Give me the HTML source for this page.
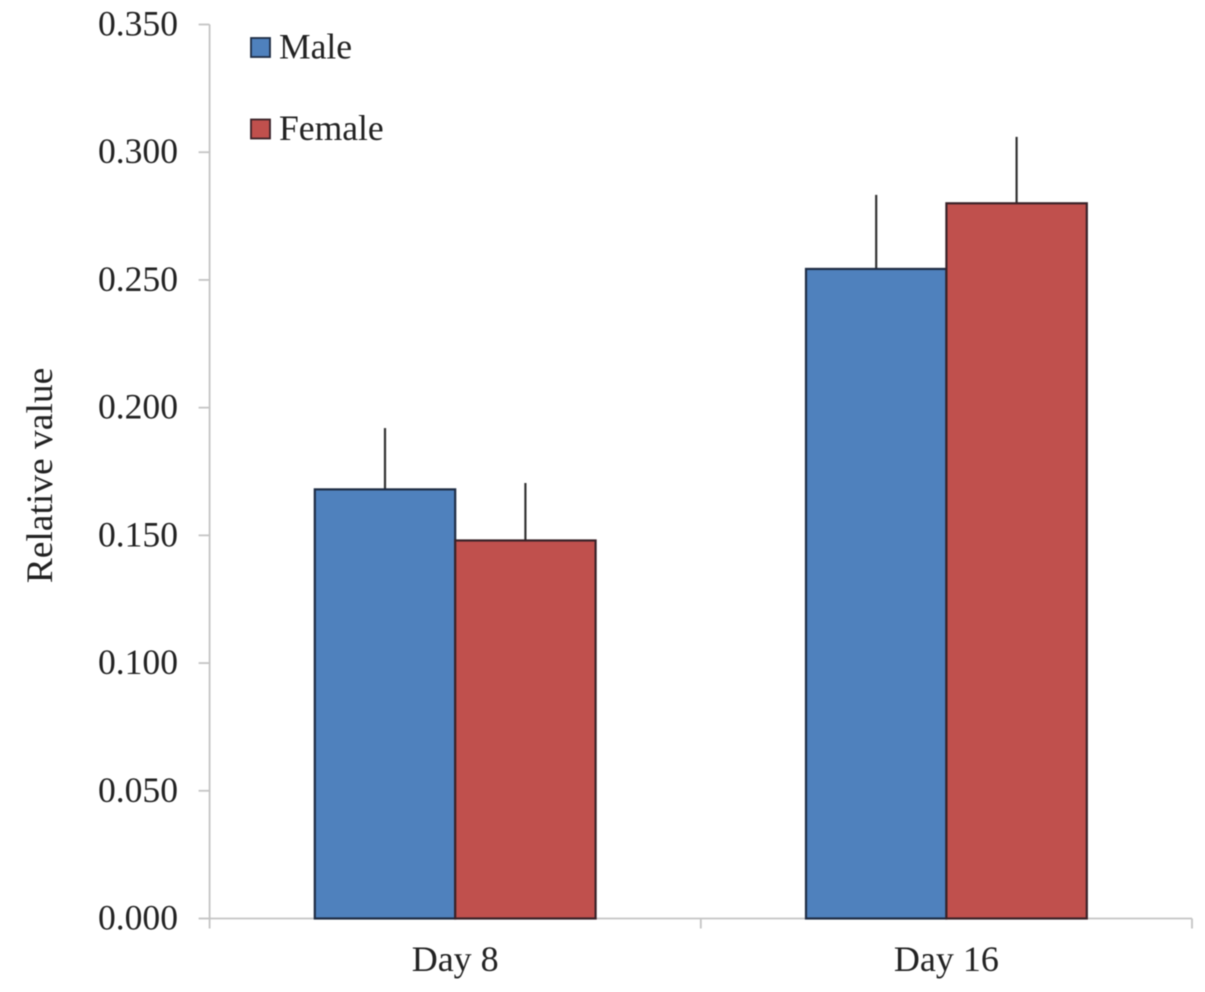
<!DOCTYPE html>
<html>
<head>
<meta charset="utf-8">
<style>
html,body{margin:0;padding:0;background:#fff;width:1205px;height:992px;overflow:hidden}
svg{display:block;font-family:"Liberation Serif",serif;fill:#222;filter:blur(0.6px)}
</style>
</head>
<body>
<svg id="chart" width="1205" height="992" viewBox="0 0 1205 992" xmlns="http://www.w3.org/2000/svg">
<g id="axes"></g>
<g id="bars"></g>
<g id="legend"></g>
<text transform="translate(52,475.5) rotate(-90)" text-anchor="middle" font-size="37.5">Relative value</text>
</svg>
<script>
const categories = ['Day 8', 'Day 16'];
const seriesNames = ['Male', 'Female'];
const maleValues = [0.168, 0.2543];
const femaleValues = [0.148, 0.280];
const maleErrors = [0.024, 0.029];
const femaleErrors = [0.0225, 0.026];
const yTicks = [0, 0.05, 0.1, 0.15, 0.2, 0.25, 0.3, 0.35];
const yTickLabels = ['0.000', '0.050', '0.100', '0.150', '0.200', '0.250', '0.300', '0.350'];

const NS = 'http://www.w3.org/2000/svg';
const plotLeft = 209.6, plotRight = 1192, plotBottom = 918.5, plotTop = 24.5, yMax = 0.35;
const barWidth = 140.4;
const seriesFill = ['#4f81bd', '#c0504d'];
const seriesEdge = ['#1f2d45', '#3a2228'];
const axisColor = '#c4c4c4';
const y = v => plotBottom - (v / yMax) * (plotBottom - plotTop);
const bandWidth = () => (plotRight - plotLeft) / categories.length;
const xCenter = i => plotLeft + bandWidth() * (i + 0.5);

function make(tag, attrs, parent, text) {
  const el = document.createElementNS(NS, tag);
  for (const k in attrs) el.setAttribute(k, attrs[k]);
  if (text !== undefined) el.textContent = text;
  parent.appendChild(el);
  return el;
}

const axes = document.getElementById('axes');
const barsGroup = document.getElementById('bars');
const legend = document.getElementById('legend');

const yAxisLine = make('line', {x1: plotLeft, x2: plotLeft, y1: plotTop, y2: plotBottom, stroke: axisColor, 'stroke-width': 1.8}, axes);


const xAxisLine = make('line', {x1: plotLeft, x2: plotRight, y1: plotBottom, y2: plotBottom, stroke: axisColor, 'stroke-width': 1.8}, axes);



yTicks.forEach((t, i) => {
  const tick = make('line', {x1: plotLeft - 11, x2: plotLeft, y1: y(t), y2: y(t), stroke: axisColor, 'stroke-width': 1.8}, axes);
  
  
  const label = make('text', {x: 178, y: y(t) + 11, 'text-anchor': 'end', 'font-size': 35.6}, axes, yTickLabels[i]);
  
  
});

for (let i = 0; i <= categories.length; i++) {
  const px = plotLeft + bandWidth() * i;
  const tick = make('line', {x1: px, x2: px, y1: plotBottom, y2: plotBottom + 10, stroke: axisColor, 'stroke-width': 1.8}, axes);
  
  
}

categories.forEach((c, i) => {
  const label = make('text', {x: xCenter(i), y: 971, 'text-anchor': 'middle', 'font-size': 36}, axes, c);
  
  
});

function drawSeries(values, errors, s) {
  values.forEach((v, i) => {
    const left = xCenter(i) + (s - 1) * barWidth;
    const mid = left + barWidth / 2;
    const err = make('line', {x1: mid, x2: mid, y1: y(v), y2: y(v + errors[i]), stroke: '#333', 'stroke-width': 2.2}, barsGroup);
    
    
    const bar = make('rect', {x: left, y: y(v), width: barWidth, height: plotBottom - y(v), fill: seriesFill[s], stroke: seriesEdge[s], 'stroke-width': 2.2}, barsGroup);
    
    
  });
}
drawSeries(maleValues, maleErrors, 0);
drawSeries(femaleValues, femaleErrors, 1);

const legendY = [47.5, 129];
seriesNames.forEach((n, s) => {
  const swatch = make('rect', {x: 251, y: legendY[s] - 9.5, width: 19, height: 19, fill: seriesFill[s], stroke: seriesEdge[s], 'stroke-width': 1.8}, legend);
  
  
  const label = make('text', {x: 279, y: legendY[s] + 11, 'font-size': 35.6}, legend, n);
  
  
});
</script>
</body>
</html>
